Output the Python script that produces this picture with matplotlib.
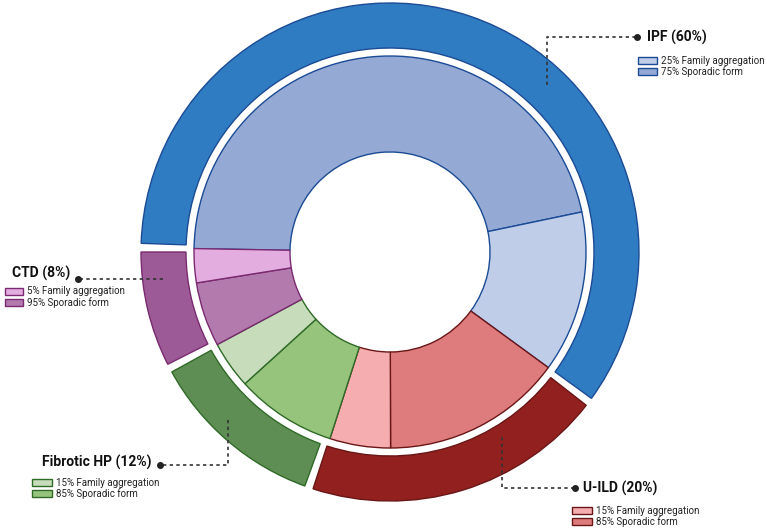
import matplotlib
matplotlib.use('Agg')
from matplotlib import pyplot as plt
from matplotlib.patches import Rectangle

plt.rcParams['font.family'] = ['Roboto', 'DejaVu Sans']

W, H = 767, 531

# outer ring: disease groups (share of circle, clockwise from the left)
groups = ['IPF', 'U-ILD', 'Fibrotic HP', 'CTD']
group_pct = [60, 20, 12, 8]
outer_colors = ['#2f7cc2', '#92201f', '#5f8e55', '#9c5a96']
edge_colors = ['#1b4b95', '#6a1616', '#2f6a27', '#7a2a70']

# inner ring: sporadic / family split, as drawn (share of circle)
inner_vals = [46.4, 13.3, 14.9, 5.0, 8.3, 3.9, 5.3, 2.8]
inner_colors = ['#94a9d4', '#bfcde8',
                '#de7b7d', '#f6adb0',
                '#97c47d', '#c6dcbb',
                '#b37bad', '#e4addf']
inner_group = [0, 0, 1, 1, 2, 2, 3, 3]

# label texts
family_pct = ['25%', '15%', '15%', '5%']
sporadic_pct = ['75%', '85%', '85%', '95%']

CX, CY = 390, H - 252
START = 179


def Y(y):
    return H - y


def draw_rings(ax):
    outer, _ = ax.pie(group_pct, radius=249, center=(CX, CY), startangle=START,
                      counterclock=False, colors=outer_colors,
                      wedgeprops=dict(width=45, linewidth=1.0))
    for w, ec in zip(outer, edge_colors):
        w.set_edgecolor(ec)
        # small white gaps between the outer segments
        w.set_theta1(w.theta1 + 1.0)
        w.set_theta2(w.theta2 - 1.0)

    inner, _ = ax.pie(inner_vals, radius=196, center=(CX, CY), startangle=START,
                      counterclock=False, colors=inner_colors,
                      wedgeprops=dict(width=96, linewidth=1.0))
    for w, g in zip(inner, inner_group):
        w.set_edgecolor(edge_colors[g])


def callout(ax, pts, dot):
    xs = [p[0] for p in pts]
    ys = [Y(p[1]) for p in pts]
    ax.plot(xs, ys, color='#333333', linewidth=1.2, linestyle=(0, (2, 2)))
    ax.plot(dot[0], Y(dot[1]), 'o', color='#222222', markersize=4)


def legend_block(ax, g, title_xy, box_x, box_y, box_w):
    ax.text(title_xy[0], Y(title_xy[1]), '{} ({}%)'.format(groups[g], group_pct[g]),
            fontsize=10, fontweight='bold', color='#111111', va='center', ha='left')
    rows = [(family_pct[g] + ' Family aggregation', inner_colors[2 * g + 1]),
            (sporadic_pct[g] + ' Sporadic form', inner_colors[2 * g])]
    for ii, (txt, fc) in enumerate(rows):
        top = box_y + ii * 11
        ax.add_patch(Rectangle((box_x, Y(top + 7)), box_w, 7, facecolor=fc,
                               edgecolor=edge_colors[g], linewidth=1.0))
        ax.text(box_x + box_w + 4, Y(top + 3.5), txt, fontsize=7, color='#222222',
                va='center', ha='left')


def flow():
    fig = plt.figure(figsize=(W / 100, H / 100), dpi=100)
    ax = fig.add_axes([0, 0, 1, 1])
    draw_rings(ax)

    callout(ax, [(547, 85), (547, 37), (637, 37)], (637, 37))
    callout(ax, [(502, 437), (502, 488), (575, 488)], (575, 488))
    callout(ax, [(228, 420), (228, 465), (160, 465)], (160, 465))
    callout(ax, [(163, 279), (78, 279)], (78, 279))

    legend_block(ax, 0, (647, 37), 638, 57, 19)
    legend_block(ax, 1, (583, 488), 572, 507, 20)
    legend_block(ax, 2, (42, 462), 32, 479, 20)
    legend_block(ax, 3, (12, 273), 5, 288, 18)

    ax.set_xlim(0, W)
    ax.set_ylim(0, H)
    ax.set_aspect('equal')
    ax.axis('off')
    fig.savefig('out.png', dpi=100)


if __name__ == '__main__':
    flow()
